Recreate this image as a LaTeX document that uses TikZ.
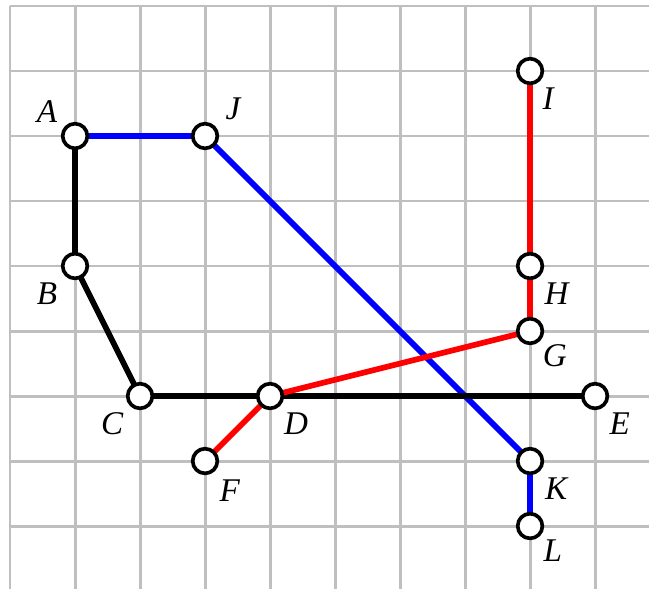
\documentclass[tikz,border=0pt]{standalone}
\usepackage{fontspec}
\setmainfont{Liberation Serif}
\usetikzlibrary{calc}
\begin{document}
\begin{tikzpicture}[x=1cm,y=-1cm,
  gridline/.style={draw=black!25,line width=1.3pt},
  pt/.style={circle,draw=black,fill=white,line width=1.6pt,minimum size=10.8pt,inner sep=0pt},
  lbl/.style={font=\fontsize{14.5}{16}\selectfont\itshape,inner sep=0pt},
  edge/.style={line width=2.5pt}]
\useasboundingbox (-0.154,-0.092) rectangle (9.83,8.97);
\foreach \i in {0,...,9} \draw[gridline] (\i,0) -- (\i,8.97);
\foreach \j in {0,...,8} \draw[gridline] (0,\j) -- (9.83,\j);
\coordinate (pA) at (1,2);
\coordinate (pJ) at (3,2);
\coordinate (pB) at (1,4);
\coordinate (pC) at (2,6);
\coordinate (pD) at (4,6);
\coordinate (pE) at (9,6);
\coordinate (pF) at (3,7);
\coordinate (pG) at (8,5);
\coordinate (pH) at (8,4);
\coordinate (pI) at (8,1);
\coordinate (pK) at (8,7);
\coordinate (pL) at (8,8);
\draw[edge,blue] (pA) -- (pJ) -- (pK) -- (pL);
\draw[edge,black] (pA) -- (pB) -- (pC) -- (pD) -- (pE);
\draw[edge,red] (pF) -- (pD) -- (pG) -- (pH) -- (pI);
\foreach \n in {A,J,B,C,D,E,F,G,H,I,K,L} \node[pt] (\n) at (p\n) {};
\foreach \n/\dx/\dy in {A/-0.43/-0.38, J/0.43/-0.42, B/-0.43/0.42, C/-0.43/0.42,
  D/0.40/0.42, E/0.38/0.42, F/0.38/0.46, G/0.38/0.38, H/0.41/0.42, I/0.28/0.42,
  K/0.40/0.43, L/0.35/0.38}
  \node[lbl] (t\n) at ($(\n)+(\dx,\dy)$) {\n};
\end{tikzpicture}
\end{document}
